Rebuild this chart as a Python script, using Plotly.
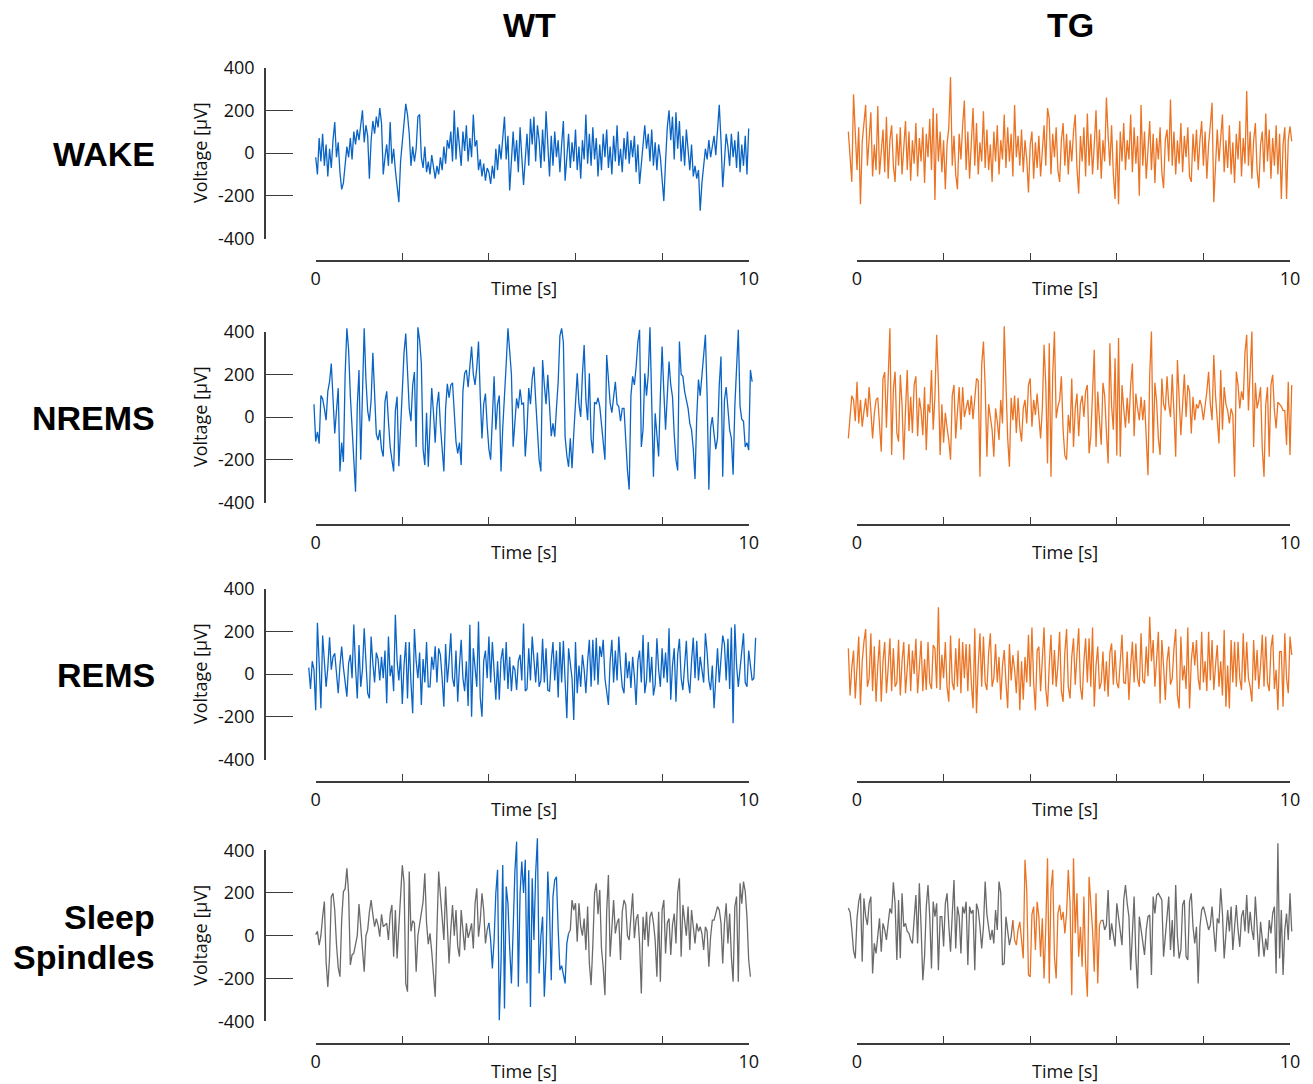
import numpy as np
import plotly.graph_objects as go

W, H = 1313, 1084

STATES = ["WAKE", "NREMS", "REMS", "Sleep Spindles"]
GENOTYPES = ["WT", "TG"]
STEP = 0.04            # sampling interval of the plotted traces [s]
TIME_TICKS = [0, 2, 4, 6, 8, 10]
VOLT_TICKS = [-400, -200, 0, 200, 400]

# ---------------- EEG traces [µV] ----------------
WAKE_WT_T0 = 0.0
WAKE_WT = [
    -20, -100, 70, -40, 90, -60, 40, -110, 20, -70,
    60, 145, -20, 50, -90, -170, -140, -60, 30, -20,
    70, -30, 100, 40, 110, 60, 120, 200, 50, 130,
    80, -120, 60, 150, 90, 170, 120, 210, 140, -100,
    -20, 40, -60, 145, -50, 20, -80, -150, -230, -40,
    60, 150, 230, 180, 90, -60, 30, -40, 20, 170,
    180, -20, -70, 30, -90, -40, -100, -10, -80, -120,
    -60, -100, -20, -80, 30, -50, 60, 20, 100, -40,
    200, -30, 120, 40, -60, 100, 10, 130, -40, 70,
    -20, 180, 30, 60, -80, -30, -110, -50, -130, -70,
    -90, -145, -60, -120, 20, -80, 40, -30, 90, 170,
    -30, 80, -175, -60, 100, -40, 60, -90, 120, -20,
    -150, -30, 90, -60, 160, 40, 170, -40, 130, 60,
    -70, 110, -40, 195, 20, -110, 80, -60, 100, -20,
    60, -90, 40, 150, -130, -30, 90, -70, 50, -40,
    110, -80, 30, -120, 60, -30, 180, -50, 90, -60,
    120, -30, 70, -110, 40, -80, 90, -20, 110, -70,
    30, -100, 80, -40, 130, -60, 20, -90, 70, -30,
    100, -50, 60, -20, 80, -90, 40, -145, -60, 50,
    130, 20, 90, -40, 110, -60, 50, -80, 40, -20,
    -120, -225, -40, 120, 200, 60, 170, -30, 190, 20,
    150, -40, 80, -60, 110, 30, -80, 40, -110, -60,
    -120, -80, -270, -140, -60, 20, -30, 60, -20, 40,
    80, -10, 120, 225, 60, -160, -40, 90, 30, -60,
    90, -20, 60, -70, 100, -90, 40, -60, 80, -100,
    115,
]

WAKE_TG_T0 = -0.2
WAKE_TG = [
    100, -25, -135, 275, 60, -80, 120, -240, 50, 160,
    225, -60, 80, 190, -110, 40, -80, 220, -100, 30,
    110, -90, 170, -120, 60, 130, -60, -135, 90, -60,
    120, -100, 40, 150, -80, 100, -130, 60, -50, 140,
    -110, 70, -40, 120, -140, 90, -20, 160, -80, 210,
    -220, 185, -40, 100, -90, 60, -170, 40, 120, 355,
    -60, 80, -100, -170, 90, -30, 130, 245, -80, 100,
    -120, 60, 210, -60, 140, -100, 50, -40, 195, -70,
    110, -80, 40, -135, 100, -40, 130, -100, 60, -30,
    180, -70, 120, -40, 90, -110, 225, -20, 80, -60,
    110, -90, 60, -30, -185, 40, 100, -120, 50, -70,
    80, -110, 40, 130, -60, 210, 160, -100, 90, -20,
    120, -80, -135, 60, 140, -60, 90, -100, 60, -40,
    100, 180, -70, -190, 80, -40, 120, -110, 185, -60,
    90, -100, 40, 200, -80, 110, -120, 60, -40, 260,
    80, -60, 130, -100, -215, 60, -240, 100, -40, 140,
    -80, 60, -30, 180, -90, 120, -50, 80, -200, 225,
    -60, 100, -120, 40, 150, -80, 90, -140, 70, -30,
    120, -90, -165, 60, 110, -40, 250, -60, 100, -100,
    60, -50, 140, -90, 80, -20, 120, -110, -135, 90,
    -40, 110, -80, 60, 150, -60, 100, -120, 40, 130,
    235, -230, -60, 110, -40, 80, 180, -90, 60, -70,
    130, -100, 50, -140, 90, -30, 150, -110, 70, -50,
    290, -60, 100, -120, 60, 140, -80, -165, 40, 100,
    -90, 185, -40, 110, -120, 70, -60, 130, -100, 90,
    -215, 40, 120, -215, 60, 125, 55,
]

NREMS_WT_T0 = -0.04
NREMS_WT = [
    60, -115, -70, -125, 100, 85, 40, -15, 120, 165,
    250, 90, -77, 30, 135, -255, -120, -210, 200, 415,
    315, 100, -50, -150, -350, 50, 220, -200, 150, 415,
    175, 30, -20, 80, 300, 120, -80, -108, -60, -150,
    -185, 72, 120, -20, -140, -200, -255, 30, 95, -230,
    -60, 120, 300, 390, 210, 40, -20, 150, 210, -140,
    420, 360, 250, -150, -225, 20, -233, -50, 135, 20,
    -120, 50, 118, -40, -150, -255, 40, 155, 90, 150,
    160, -15, -115, -170, -120, -225, 120, 205, 220, 140,
    250, 330, 200, 150, 230, 353, 100, -100, 60, 110,
    -40, -150, -200, 40, 190, -60, 60, 100, -255, -50,
    80, 250, 415, 300, 200, -139, -30, 87, 40, 130,
    60, 65, -185, -60, 135, 60, 180, 235, 80, -60,
    -200, -255, 267, 150, 60, 197, 20, -90, -30, -92,
    40, 165, 380, 415, 350, -92, -180, -233, -100, -240,
    -77, 100, 205, 60, 0, 200, 337, 80, -15, 205,
    -100, -170, 70, 60, 90, 50, -45, -110, -200, 290,
    150, 65, 20, 110, 165, 60, 48, -20, 40, 40,
    -120, -250, -340, 100, 190, 150, 235, 350, 408, -140,
    -60, 205, 100, 197, 420, 100, -280, 17, -80, -185,
    100, 330, 120, -60, 100, 260, 150, 95, -80, -200,
    -250, 353, 200, 190, 120, 80, 40, -30, -60, -150,
    -290, 0, 175, 100, 200, 300, 385, 100, -340, -50,
    0, -80, -150, -100, 150, 283, -280, 80, 140, 40,
    -60, -100, -270, 50, 270, 408, 50, -10, -20, -140,
    -120, -155, 220, 165,
]

NREMS_TG_T0 = -0.2
NREMS_TG = [
    -100, 0, 100, 80, -20, 165, -30, 80, -45, 25,
    87, 0, 140, 30, -100, 15, 80, 90, -20, -162,
    180, 210, -50, 150, 415, -178, 130, 212, -75, -115,
    197, 60, -200, 30, 220, -65, 95, -75, 150, 190,
    -90, 90, 30, -85, 140, -155, 60, 20, 220, -60,
    100, 385, 160, -178, 60, -120, 20, -50, -110, -200,
    100, 150, -100, 25, 140, -60, 140, 0, 40, 80,
    10, 100, -10, 80, 180, 170, -280, 244, 353, 140,
    -186, 60, 0, -60, -186, 40, -20, -108, 80, -30,
    424, 150, -100, -233, 90, -15, 100, -75, 90, -50,
    -115, 40, 80, -30, 150, 180, -45, 80, 10, 110,
    -20, -100, 40, 338, 150, -217, 345, -280, 200, 400,
    -5, 50, 80, 190, -60, -180, -200, 10, -76, 180,
    -140, 40, 110, -90, 60, 100, 0, 120, 150, -170,
    -90, 150, 314, -140, 119, -15, -130, 160, 100, -70,
    -217, 345, 50, -60, 275, -180, 369, -186, 150, 40,
    -50, 90, -30, 150, 250, -90, 110, 40, -15, 95,
    -15, 80, -120, -272, 200, 400, -170, 160, 70, -100,
    -178, 180, 60, 30, 190, 60, 0, 200, 20, -186,
    267, 60, -85, 60, 200, 0, 150, 120, -77, 95,
    -15, 60, 40, 80, 50, -15, 50, 120, 212, 60,
    -15, 290, 100, -20, -124, 220, -60, 140, 60, 30,
    -30, 40, 10, -280, 212, 150, 40, 120, 80, 300,
    385, 30, 250, 400, -140, 160, 40, 80, 140, -150,
    -280, 60, 140, -186, 150, 197, 30, -53, 70, 60,
    50, 30, 30, -131, 165, -178, 150,
]

REMS_WT_T0 = -0.16
REMS_WT = [
    30, -70, 60, 20, -170, 240, 50, -160, 180, 60,
    -60, 30, 172, 20, 80, 97, -20, -90, 40, 128,
    30, -50, -106, 50, 90, -20, 232, 30, -114, 135,
    -60, 20, 214, 60, -90, -114, 175, 50, -40, 100,
    70, -30, 80, -20, 110, -137, 175, -10, 40, -80,
    277, 60, -30, 90, -140, 40, 150, -115, 150, -40,
    -184, 210, 60, -20, 100, -145, 70, -40, 150, -60,
    -60, 80, 20, 130, -40, 120, 90, -20, -153, 140,
    -40, 60, 190, -20, -60, 110, -130, 40, 160, -20,
    -80, 60, -150, 230, -200, 120, 40, -60, 245, -110,
    -200, 60, 110, -20, 175, -40, 150, -10, -120, 60,
    -120, 70, 120, -30, 150, -70, 80, -80, 40, 20,
    -75, 60, 90, -30, 236, -80, -70, 120, -30, 175,
    80, -40, 100, -60, -30, 165, -40, 120, -75, -80,
    60, 150, -30, 110, -110, 150, -40, 155, -30, -207,
    120, 60, -20, -215, 150, -90, 40, -60, 90, 20,
    -90, 60, 160, -60, 160, -30, 170, -50, 130, 80,
    160, -20, -80, -145, 60, 160, -40, 110, -30, 175,
    40, -60, -90, 100, -20, 60, -65, 80, -10, -145,
    60, 110, -40, 182, -90, -30, 150, -40, 80, -100,
    -50, 167, 20, -60, 120, -20, 100, -40, 214, -120,
    40, 120, -130, 90, 165, -20, -75, 60, 155, -30,
    -90, 60, 170, -20, 155, -30, 80, 20, -40, 190,
    100, -30, -75, 40, -160, -20, 120, -40, 100, 180,
    140, -30, 165, -70, 218, -230, 233, 40, -60, 30,
    120, 190, -40, -60, 110, 40, -30, -20, 170,
]

REMS_TG_T0 = -0.2
REMS_TG = [
    120, -100, 30, 110, -115, 40, 175, -145, 60, 150,
    210, -60, -20, 190, -80, 130, -130, 40, 160, -130,
    60, 150, -90, 30, 167, -80, 120, -60, -40, 160,
    -100, 60, 150, -90, 20, 140, -80, 110, 0, 165,
    -90, 40, 155, -80, 70, -75, 150, -40, -70, 135,
    120, -67, 312, -75, 90, -20, 150, -60, -130, 180,
    -40, -75, 120, -60, 167, -90, 150, -20, 140, -80,
    140, -40, -160, 214, -184, 40, 190, -60, 175, -40,
    -75, 100, 190, -60, -20, 140, -40, 80, -120, 40,
    112, -40, -160, 140, -30, 89, 20, -90, 110, -170,
    60, -120, 80, -40, 183, -60, 218, -40, -170, 110,
    128, -80, 100, 218, -70, -153, 40, 183, -50, 112,
    -60, 40, 198, -80, -130, 100, 210, -60, -114, 80,
    167, -50, 90, 214, -60, -120, 60, 167, -40, 167,
    -60, 218, -153, 40, 128, -70, -40, 105, -80, 60,
    -106, 100, 143, -50, 112, -40, -67, 80, 183, -40,
    -44, 105, -122, 40, 151, -40, 143, -20, -60, 190,
    -30, -44, 128, -10, 268, 60, 159, -60, 100, 198,
    -138, 159, 40, -122, 60, 128, -50, -20, 120, 210,
    -100, -161, 175, -30, 40, -70, 218, -161, 60, 150,
    40, 159, -20, -75, 198, -40, 60, -80, 198, -30,
    159, -75, 40, 136, -60, 60, -100, 206, -153, 40,
    -161, 159, -40, 151, -60, 151, -20, -75, 190, -40,
    151, -20, -60, -130, 159, -30, 112, -70, 40, 183,
    -60, 175, -40, -80, 120, 183, -70, 20, -170, 105,
    105, -153, 190, -20, -90, 175, 89,
]

SPINDLES_WT_T0 = 0.0
SPINDLES_WT = [
    5, 20, -44, 0, 89, 160, -120, -240, -100, 183,
    198, 120, -40, -150, -192, 75, 206, 220, 315, 198,
    -137, -90, -82, -30, 0, 148, 40, -100, -169, 0,
    27, 110, 167, 100, 42, 80, 50, -5, 100, 42,
    50, 58, -20, 100, 144, -98, 120, -106, 40, 200,
    330, 250, -223, -262, 300, 20, 70, 60, -169, 0,
    50, 90, 159, 292, 60, -40, 11, -75, -169, -286,
    27, 300, 190, 60, -20, 230, 60, -130, 27, 144,
    0, 120, -50, -98, 120, 0, -68, 58, -10, 20,
    58, -60, 150, 222, -5, 70, 198, 120, -36, 27,
    60, -20, -153, -20, 200, 308, -395, -130, 331, -340,
    230, 150, -60, -223, 30, 300, 440, -239, 200, 347,
    200, 355, -223, 306, -333, 269, -20, 292, 456, -177,
    -5, 89, -286, -100, 300, 120, -208, 183, 261, 276,
    27, -161, -140, -192, -223, -36, 11, 27, 167, 120,
    152, -28, 152, 42, 0, 80, -67, 136, -130, -231,
    -44, 198, 245, 100, 214, -60, -150, -278, 112, 284,
    -98, 27, 167, 11, 60, 80, -114, 112, 167, 144,
    0, -20, 70, 198, -12, 75, 100, -36, -270, 89,
    -20, 112, -50, 89, 112, 60, -20, -192, 112, -215,
    120, 167, -83, 60, 80, -90, 50, 104, -36, 200,
    269, -98, 144, 60, 0, 136, -67, 120, 40, -36,
    58, 20, 42, 10, -67, 42, 20, -145, -5, 73,
    73, 104, 136, 120, 60, -130, 58, 152, -36, 104,
    -100, -215, 136, 183, -215, 245, 150, 253, 206, 89,
    -114, -192,
]

SPINDLES_TG_T0 = -0.2
SPINDLES_TG = [
    130, 110, 30, -70, -106, 81, 160, 198, -122, 175,
    90, 50, 150, 183, -177, -36, -83, -5, 81, -75,
    58, 27, -20, 58, 128, 104, 250, 150, -114, 167,
    -106, 198, 42, 58, 20, 11, -20, -36, 89, 190,
    -36, 245, 42, -208, -98, 136, 237, 89, -153, 160,
    89, 152, -161, 89, 89, -50, 150, 198, 50, -75,
    100, 261, -60, 136, 89, -83, 136, 104, 159, -137,
    136, 104, 120, -161, 150, 120, 42, -60, 42, 253,
    100, 42, -20, 27, -36, 120, 27, 253, 200, -137,
    -130, 89, 34, -44, -5, 72, -20, -44, 27, 65,
    -28, -106, 355, 214, -184, -192, 100, 136, -67, 159,
    89, -98, 81, -200, 42, 362, -223, 214, 308, -98,
    -200, 104, 144, 73, 112, 11, 104, 308, 152, -278,
    362, 11, 198, -98, 42, -145, 183, -137, -286, 276,
    152, 27, -169, 198, -223, 50, 72, 72, 27, 50,
    214, -20, 58, 11, -50, 152, 89, 11, -44, 167,
    237, 152, 89, -161, 27, 183, -98, -247, 89, 27,
    -50, -90, 27, 89, 97, -184, 183, 104, 190, 198,
    183, 167, -98, -5, 120, 183, -67, 73, -98, 237,
    -5, -106, -67, 144, 167, -98, -114, 159, 198, 42,
    -36, 42, -223, 42, 120, 136, 104, 58, 27, 50,
    136, 27, -75, 81, 58, 222, 104, -106, 27, 120,
    20, 136, -67, 27, 144, 27, -52, 89, 120, 20,
    190, 11, 112, 27, -20, 183, 42, -98, 65, -36,
    -98, -13, -67, 73, 11, 104, 136, -177, 433, -106,
    120, -184, 27, 104, -20, 198, 20,
]

# spindle events (start, end) [s]
SPINDLE_WT = (4.0, 5.84)
SPINDLE_TG = (3.6, 5.64)

TRACES = {
    ("WAKE", "WT"): (WAKE_WT_T0, WAKE_WT),
    ("WAKE", "TG"): (WAKE_TG_T0, WAKE_TG),
    ("NREMS", "WT"): (NREMS_WT_T0, NREMS_WT),
    ("NREMS", "TG"): (NREMS_TG_T0, NREMS_TG),
    ("REMS", "WT"): (REMS_WT_T0, REMS_WT),
    ("REMS", "TG"): (REMS_TG_T0, REMS_TG),
    ("Sleep Spindles", "WT"): (SPINDLES_WT_T0, SPINDLES_WT),
    ("Sleep Spindles", "TG"): (SPINDLES_TG_T0, SPINDLES_TG),
}
SPINDLES = {"WT": SPINDLE_WT, "TG": SPINDLE_TG}

COLORS = {"WT": "#0A64C6", "TG": "#EB7424"}
BACKGROUND_EEG = "#6A6A6A"
AXIS_COLOR = "#3C3C3C"
TEXT_COLOR = "#111111"
LABEL_FONT = "Open Sans"
TITLE_FONT = "Liberation Sans, Arial"

# ---------------- panel geometry (pixels) ----------------
ROW_ZERO_PX = [153.0, 417.0, 674.0, 935.7]   # where 0 µV sits in each row
COL_T0_PX = [315.7, 857.0]                   # where t = 0 s sits in each column
PX_PER_S = 43.3
PX_PER_UV = 85.5 / 400.0
XAXIS_DROP = 108.0                           # time axis below the 0 µV line
YAXIS_LINE_PX = 265.0
DATA_T_RANGE = [-0.3, 10.3]
DATA_V_RANGE = [-500, 500]


def fx(p):
    return p / W


def fy(p):
    return 1 - p / H


def ax_name(kind, n):
    return kind if n == 1 else f"{kind}{n}"


fig = go.Figure()
layout = {}

for r, state in enumerate(STATES):
    z = ROW_ZERO_PX[r]
    for c, geno in enumerate(GENOTYPES):
        p = r * 2 + c
        t0px = COL_T0_PX[c]

        # hidden data axes carrying the trace
        xd, yd = p + 1, p + 1
        layout[ax_name("xaxis", xd)] = dict(
            domain=[fx(t0px + DATA_T_RANGE[0] * PX_PER_S), fx(t0px + DATA_T_RANGE[1] * PX_PER_S)],
            range=DATA_T_RANGE, visible=False, fixedrange=True, anchor=ax_name("y", yd),
        )
        layout[ax_name("yaxis", yd)] = dict(
            domain=[fy(z - DATA_V_RANGE[0] * PX_PER_UV), fy(z - DATA_V_RANGE[1] * PX_PER_UV)],
            range=DATA_V_RANGE, visible=False, fixedrange=True, anchor=ax_name("x", xd),
        )

        t_start, vals = TRACES[(state, geno)]
        v = np.asarray(vals, dtype=float)
        t = t_start + STEP * np.arange(v.size)
        common = dict(xaxis=ax_name("x", xd), yaxis=ax_name("y", yd), mode="lines",
                      showlegend=False, hoverinfo="skip")
        if state == "Sleep Spindles":
            s0, s1 = SPINDLES[geno]
            eps = 1e-6
            pre = t <= s0 + eps
            mid = (t >= s0 - eps) & (t <= s1 + eps)
            post = t >= s1 - eps
            for mask, col in ((pre, BACKGROUND_EEG), (post, BACKGROUND_EEG), (mid, COLORS[geno])):
                fig.add_trace(go.Scatter(x=t[mask], y=v[mask], line=dict(color=col, width=1.3), **common))
        else:
            fig.add_trace(go.Scatter(x=t, y=v, line=dict(color=COLORS[geno], width=1.3), **common))

        # visible time axis, offset below the trace
        xv = 9 + p
        xline_px = z + XAXIS_DROP
        layout[ax_name("xaxis", xv)] = dict(
            domain=[fx(t0px), fx(t0px + 10 * PX_PER_S)],
            range=[TIME_TICKS[0], TIME_TICKS[-1]],
            anchor="free", position=fy(xline_px), side="bottom",
            showline=True, linecolor=AXIS_COLOR, linewidth=1.5,
            showgrid=False, zeroline=False, fixedrange=True,
            tickmode="array", tickvals=[TIME_TICKS[0], TIME_TICKS[-1]],
            ticktext=[str(TIME_TICKS[0]), str(TIME_TICKS[-1])],
            ticks="inside", ticklen=13, tickwidth=1.4, tickcolor=AXIS_COLOR,
            minor=dict(tickmode="array", tickvals=TIME_TICKS[1:-1], ticks="inside",
                       ticklen=7, tickwidth=1.4, tickcolor=AXIS_COLOR, showgrid=False),
            tickfont=dict(family=LABEL_FONT, size=18, color=TEXT_COLOR),
            ticklabelstandoff=2,
        )
        if c == 0:
            yv = 17 + r
            layout[ax_name("yaxis", yv)] = dict(
                domain=[fy(z + 400 * PX_PER_UV), fy(z - 400 * PX_PER_UV)],
                range=[VOLT_TICKS[0], VOLT_TICKS[-1]],
                anchor="free", position=fx(YAXIS_LINE_PX), side="left",
                showline=True, linecolor=AXIS_COLOR, linewidth=1.5,
                showgrid=False, zeroline=False, fixedrange=True,
                tickmode="array", tickvals=VOLT_TICKS, ticktext=[str(k) for k in VOLT_TICKS],
                ticks="inside", ticklen=27, tickwidth=1.4, tickcolor=AXIS_COLOR,
                tickfont=dict(family=LABEL_FONT, size=18, color=TEXT_COLOR),
                ticklabelstandoff=6,
            )
            fig.add_trace(go.Scatter(x=[], y=[], xaxis=ax_name("x", xv), yaxis=ax_name("y", yv),
                                     showlegend=False, hoverinfo="skip"))
        else:
            fig.add_trace(go.Scatter(x=[], y=[], xaxis=ax_name("x", xv), yaxis=ax_name("y", yd),
                                     showlegend=False, hoverinfo="skip"))

annotations = []
# column headers
for c, geno in enumerate(GENOTYPES):
    annotations.append(dict(text=f"<b>{geno}</b>", x=fx(COL_T0_PX[c] + 5 * PX_PER_S - 3), y=fy(25),
                            xref="paper", yref="paper", showarrow=False, xanchor="center", yanchor="middle",
                            font=dict(family=TITLE_FONT, size=34, color="#000000")))
# row labels, axis titles
for r, state in enumerate(STATES):
    z = ROW_ZERO_PX[r]
    words = state.split(" ")
    if len(words) == 1:
        lines = [(words[0], z + 1)]
    else:
        lines = [(words[0], z - 19), (words[1], z + 21)]
    for txt, ypx in lines:
        annotations.append(dict(text=f"<b>{txt}</b>", x=fx(157), y=fy(ypx), xref="paper", yref="paper",
                                showarrow=False, xanchor="right", yanchor="middle",
                                font=dict(family=TITLE_FONT, size=34, color="#000000")))
    annotations.append(dict(text="Voltage [µV]", x=fx(200), y=fy(z), xref="paper", yref="paper",
                            showarrow=False, textangle=-90, xanchor="center", yanchor="middle",
                            font=dict(family=LABEL_FONT, size=18, color=TEXT_COLOR)))
    for c in range(2):
        annotations.append(dict(text="Time [s]", x=fx(COL_T0_PX[c] + 4.8 * PX_PER_S), y=fy(z + XAXIS_DROP + 27),
                                xref="paper", yref="paper", showarrow=False,
                                xanchor="center", yanchor="middle",
                                font=dict(family=LABEL_FONT, size=18, color=TEXT_COLOR)))

fig.update_layout(
    width=W, height=H,
    margin=dict(l=0, r=0, t=0, b=0, autoexpand=False),
    paper_bgcolor="white", plot_bgcolor="rgba(0,0,0,0)",
    showlegend=False,
    annotations=annotations,
    **layout,
)

fig.write_html("out.html", config={"displayModeBar": False})
